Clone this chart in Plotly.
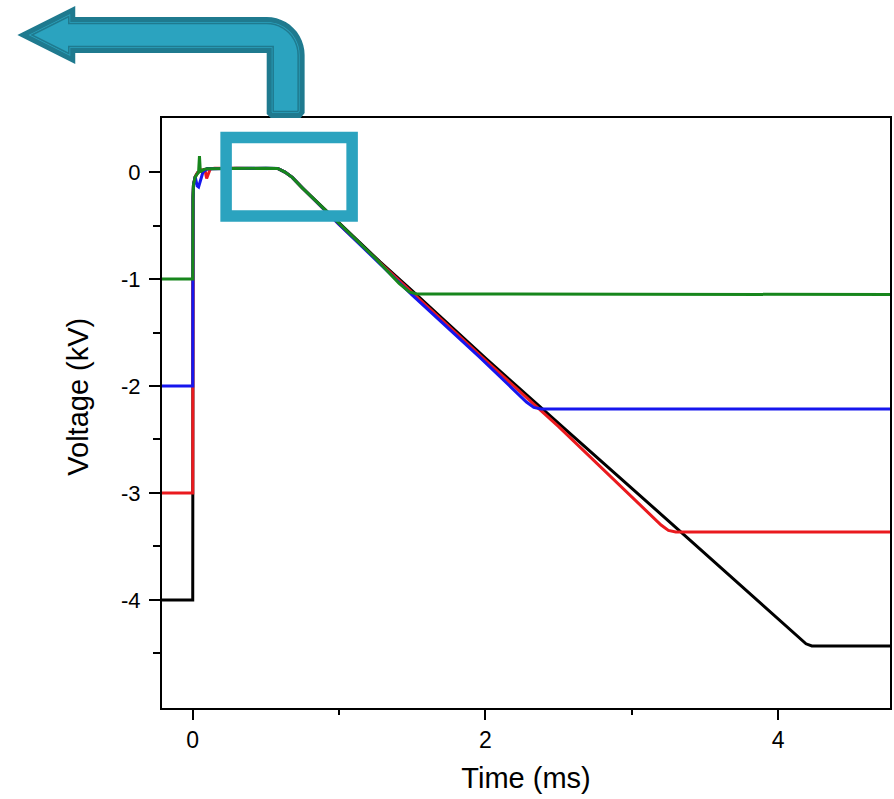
import plotly.graph_objects as go
import math

# ---- Measured voltage traces (time in ms, voltage in kV) ----
t_black = [-0.21, 0.0, 0.002, 0.005, 0.017, 0.033, 0.06, 0.10, 0.30, 0.50, 0.58, 0.63, 0.68,
           0.75, 1.00, 1.28, 1.50, 2.00, 2.55, 3.08, 3.34, 4.19, 4.23, 4.764]
v_black = [-4.0, -4.0, -0.25, -0.12, -0.045, -0.006, 0.015, 0.03, 0.035, 0.035, 0.033, 0.0, -0.05,
           -0.15, -0.48, -0.84, -1.11, -1.74, -2.41, -3.06, -3.37, -4.41, -4.43, -4.43]

t_red = [-0.21, 0.0, 0.002, 0.005, 0.017, 0.033, 0.06, 0.085, 0.095, 0.105, 0.12, 0.15, 0.30, 0.50,
         0.58, 0.63, 0.68, 0.75, 1.00, 1.28, 1.50, 2.00, 2.50, 3.02, 3.20, 3.25, 3.30, 4.764]
v_red = [-3.0, -3.0, -0.25, -0.12, -0.045, -0.006, 0.02, 0.01, -0.06, -0.03, 0.03, 0.035, 0.035, 0.035,
         0.033, 0.0, -0.05, -0.15, -0.49, -0.85, -1.13, -1.76, -2.38, -3.065, -3.30, -3.35, -3.365, -3.365]

t_blue = [-0.21, 0.0, 0.002, 0.005, 0.017, 0.030, 0.040, 0.055, 0.07, 0.10, 0.30, 0.50, 0.58, 0.63,
          0.68, 0.75, 1.00, 1.28, 1.50, 1.96, 2.20, 2.28, 2.33, 2.38, 4.764]
v_blue = [-2.0, -2.0, -0.25, -0.12, -0.045, -0.13, -0.14, -0.08, 0.0, 0.03, 0.035, 0.035, 0.033, 0.0,
          -0.05, -0.15, -0.49, -0.86, -1.15, -1.73, -2.05, -2.15, -2.20, -2.215, -2.215]

t_green = [-0.21, 0.0, 0.002, 0.005, 0.017, 0.033, 0.040, 0.046, 0.052, 0.06, 0.08, 0.10, 0.30, 0.50,
           0.58, 0.63, 0.68, 0.75, 1.00, 1.25, 1.41, 1.48, 1.53, 4.764]
v_green = [-1.0, -1.0, -0.23, -0.12, -0.045, -0.006, 0.0, 0.15, 0.0, 0.01, 0.025, 0.03, 0.035, 0.035,
           0.033, 0.0, -0.05, -0.15, -0.48, -0.81, -1.04, -1.12, -1.14, -1.145]

series = [
    ("-4 kV", t_black, v_black, "#000000"),
    ("-3 kV", t_red, v_red, "#ea1a1e"),
    ("-2 kV", t_blue, v_blue, "#1616ee"),
    ("-1 kV", t_green, v_green, "#17861c"),
]

x_ticks = [0, 2, 4]
y_ticks = [-4, -3, -2, -1, 0]

W, H = 894, 799
ML, MR, MT, MB = 162, 2, 118, 91
PW, PH = W - ML - MR, H - MT - MB

fig = go.Figure()
for name, t, v, c in series:
    fig.add_trace(go.Scatter(x=t, y=v, mode="lines", name=name,
                             line=dict(color=c, width=3), hoverinfo="skip"))


def to_paper(px, py):
    return (px - ML) / PW, (MT + PH - py) / PH


def offset_polygon(pts, d):
    """Shift every vertex of a clockwise (screen) polygon inwards by d pixels."""
    n = len(pts)
    out = []
    for i in range(n):
        p0, p1, p2 = pts[i - 1], pts[i], pts[(i + 1) % n]

        def normal(a, b):
            dx, dy = b[0] - a[0], b[1] - a[1]
            L = (dx * dx + dy * dy) ** 0.5
            return (-dy / L, dx / L)
        n1, n2 = normal(p0, p1), normal(p1, p2)
        mx, my = n1[0] + n2[0], n1[1] + n2[1]
        ml = (mx * mx + my * my) ** 0.5
        mx, my = mx / ml, my / ml
        k = d / (mx * n1[0] + my * n1[1])
        out.append((p1[0] + mx * k, p1[1] + my * k))
    return out


def svg_path(pts):
    segs = []
    for i, (px, py) in enumerate(pts):
        x, y = to_paper(px, py)
        segs.append(("M" if i == 0 else "L") + f"{x:.5f},{y:.5f}")
    return " ".join(segs) + " Z"


# Bent arrow outline (pixel space, clockwise on screen)
arrow = [(17, 35), (75, 6), (75, 17)]
R, cx, cy = 38, 267, 55
for k in range(0, 13):
    a = math.radians(-90 + 90 * k / 12)
    arrow.append((cx + R * math.cos(a), cy + R * math.sin(a)))
arrow += [(305, 113), (301, 118), (271, 118), (267, 114), (267, 53), (75, 53), (75, 64)]

teal = "#2ba3bf"
dark = "#1f7a8f"
shapes = [
    dict(type="path", xref="paper", yref="paper", path=svg_path(offset_polygon(arrow, 2.5)),
         fillcolor=teal, line=dict(color=dark, width=5), layer="above"),
    dict(type="path", xref="paper", yref="paper", path=svg_path(offset_polygon(arrow, 6.5)),
         fillcolor="rgba(0,0,0,0)", line=dict(color=dark, width=1.5), layer="above"),
    # highlight frame around the plateau / start of the ramp
    dict(type="rect", xref="x", yref="y", x0=0.228, x1=1.089, y0=-0.411, y1=0.322,
         line=dict(color=teal, width=11.5), fillcolor="rgba(0,0,0,0)", layer="above"),
]

font_family = "Arial, Liberation Sans, Helvetica, sans-serif"

fig.update_layout(
    width=W, height=H,
    margin=dict(l=ML, r=MR, t=MT, b=MB),
    paper_bgcolor="white", plot_bgcolor="white",
    showlegend=False,
    shapes=shapes,
    font=dict(family=font_family, color="black"),
    annotations=[dict(text="Voltage (kV)", textangle=-90, xref="paper", yref="paper",
                      x=(77.5 - ML) / PW, y=(MT + PH - 397) / PH, xanchor="center", yanchor="middle",
                      showarrow=False, font=dict(size=29, family=font_family, color="black"))],
)

fig.update_xaxes(
    range=[-0.21, 4.764], tickmode="array", tickvals=x_ticks, ticktext=[str(v) for v in x_ticks],
    ticks="outside", ticklen=10, tickwidth=2, tickcolor="black",
    minor=dict(tickvals=[1, 3], ticks="outside", ticklen=5, tickwidth=2, tickcolor="black"),
    showline=True, linewidth=2, linecolor="black", mirror=True,
    showgrid=False, zeroline=False,
    tickfont=dict(size=23, family=font_family, color="black"),
    title=dict(text="Time (ms)", font=dict(size=29, family=font_family, color="black"), standoff=16),
)
fig.update_yaxes(
    range=[-5.01, 0.505], tickmode="array", tickvals=y_ticks, ticktext=[str(v) for v in y_ticks],
    ticks="outside", ticklen=11, tickwidth=2, tickcolor="black",
    minor=dict(tickvals=[-4.5, -3.5, -2.5, -1.5, -0.5], ticks="outside", ticklen=7, tickwidth=2,
               tickcolor="black"),
    showline=True, linewidth=2, linecolor="black", mirror=True,
    showgrid=False, zeroline=False, ticklabelstandoff=4,
    tickfont=dict(size=22, family=font_family, color="black"),
)

fig.write_html("out.html")
